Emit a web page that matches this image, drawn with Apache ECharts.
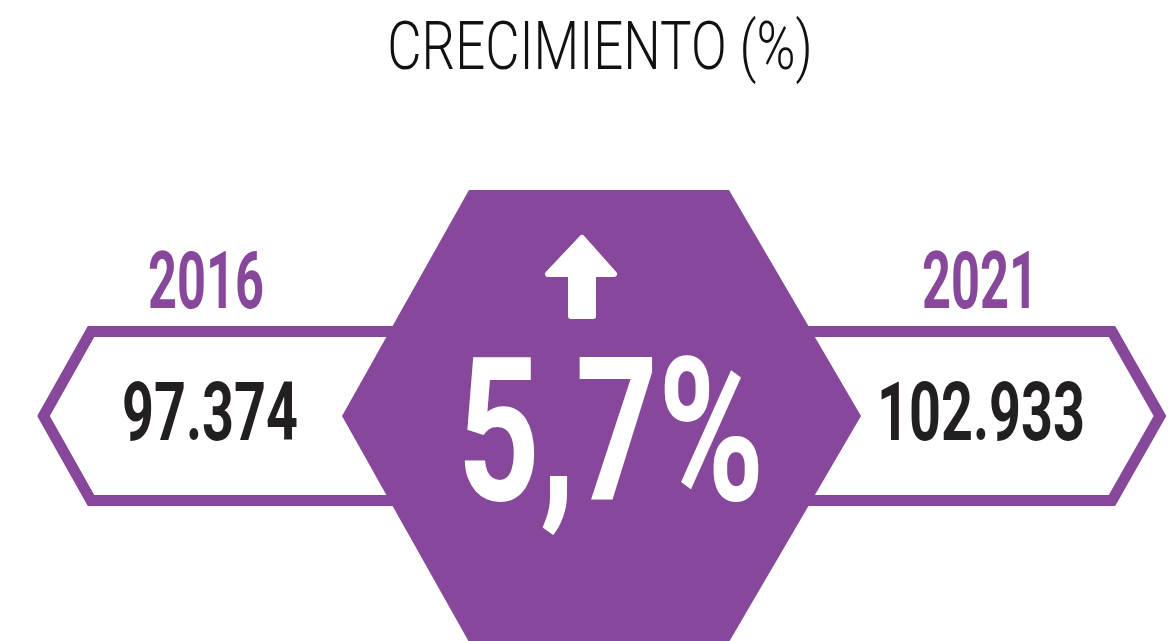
<!DOCTYPE html>
<html>
<head>
<meta charset="utf-8">
<script src="https://cdn.jsdelivr.net/npm/echarts@6/dist/echarts.min.js"></script>
<style>
html,body{margin:0;padding:0;background:#fff;}
#chart{width:1173px;height:641px;}
</style>
</head>
<body>
<div id="chart"></div>
<script>
// ---- data ----
const title = 'CRECIMIENTO (%)';
const years = ['2016', '2021'];
const values = [97374, 102933];
const growth = [5.7];

// ---- helpers ----
function fmtThousands(n) {
  return String(n).replace(/\B(?=(\d{3})+(?!\d))/g, '.');
}
function fmtPct(v) {
  return String(v).replace('.', ',') + '%';
}

const PURPLE = '#87479a';
const DARK = '#231f20';

const chart = echarts.init(document.getElementById('chart'), null, {renderer: 'canvas'});

function txt(text, cx, cy, size, weight, color, sx) {
  return {
    type: 'text', x: cx, y: cy, scaleX: sx, z: 10,
    style: {
      text: text, x: 0, y: 0, textAlign: 'center', textVerticalAlign: 'middle',
      fontFamily: 'Roboto', fontSize: size, fontWeight: weight, fill: color
    }
  };
}

const elements = [
  // left arrow box
  {
    type: 'polygon', z: 1,
    shape: {points: [[43.5, 416], [91, 331.5], [420, 331.5], [420, 500.5], [91, 500.5]]},
    style: {fill: '#fff', stroke: PURPLE, lineWidth: 11, lineJoin: 'miter'}
  },
  // right arrow box
  {
    type: 'polygon', z: 1,
    shape: {points: [[1160, 416], [1112, 331.5], [780, 331.5], [780, 500.5], [1112, 500.5]]},
    style: {fill: '#fff', stroke: PURPLE, lineWidth: 11, lineJoin: 'miter'}
  },
  // hexagon
  {
    type: 'polygon', z: 2,
    shape: {points: [[469, 190], [729, 190], [861, 416], [729, 642], [469, 642], [342, 416]]},
    style: {fill: PURPLE}
  },
  // up arrow
  {
    type: 'polygon', z: 3,
    shape: {points: [[582, 238], [614, 274], [593, 274], [593, 316], [571, 316], [571, 274], [548, 274]]},
    style: {fill: '#fff', stroke: '#fff', lineWidth: 6, lineJoin: 'round'}
  },
  txt(title, 600, 52, 66, 300, '#111', 0.8),
  txt(years[0], 206, 288, 79, 700, PURPLE, 0.64),
  txt(years[1], 980, 288, 79, 700, PURPLE, 0.64),
  txt(fmtThousands(values[0]), 210, 419, 82, 700, DARK, 0.68),
  txt(fmtThousands(values[1]), 981, 419, 82, 700, DARK, 0.68),
  txt(fmtPct(growth[0]), 611, 450, 200, 700, '#fff', 0.72)
];

chart.setOption({
  animation: false,
  graphic: {elements: elements}
});
</script>
</body>
</html>
